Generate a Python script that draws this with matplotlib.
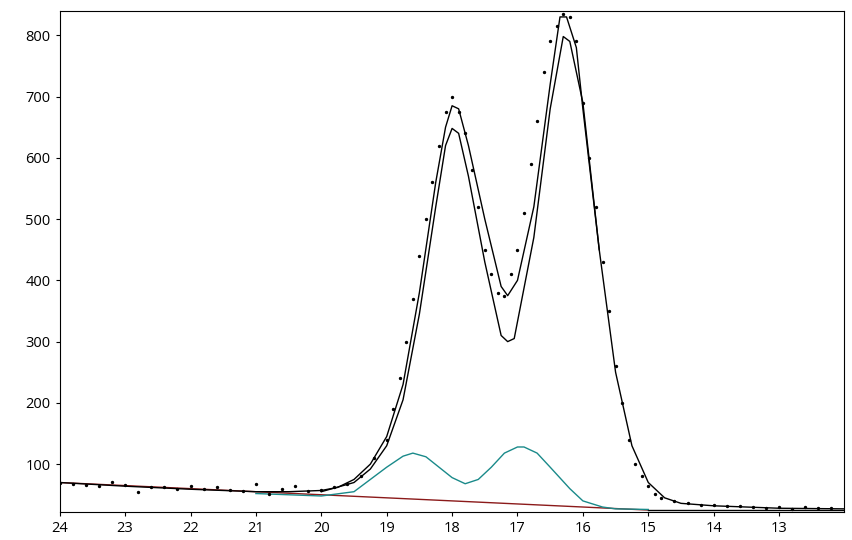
import matplotlib
matplotlib.use("Agg")
import matplotlib.pyplot as plt

plt.rcParams['font.family'] = ['Open Sans', 'DejaVu Sans']

fit_x = [24, 23, 22, 21, 20.5, 20, 19.75, 19.5, 19.25, 19, 18.75, 18.5, 18.25, 18.1, 18, 17.9, 17.75, 17.5, 17.25, 17.15,
         17, 16.75, 16.5, 16.35, 16.25, 16.1, 16, 15.75, 15.5, 15.25, 15, 14.75, 14.5, 14, 13, 12]
fit_y = [70, 64, 59, 55, 55, 57, 62, 75, 100, 145, 230, 380, 560, 650, 685, 680, 620, 500, 390, 375,
         400, 520, 720, 830, 830, 780, 680, 450, 250, 130, 70, 45, 36, 32, 28, 27]

sum_x = [20, 19.5, 19.25, 19, 18.75, 18.5, 18.25, 18.1, 18, 17.9, 17.75, 17.5, 17.25, 17.15, 17.05, 16.75, 16.5, 16.3, 16.2, 16, 15.75]
sum_y = [55, 70, 92, 130, 205, 345, 520, 620, 648, 640, 570, 430, 310, 300, 305, 470, 680, 798, 790, 690, 450]

peak_x = [21, 20, 19.5, 19, 18.75, 18.6, 18.4, 18.2, 18, 17.8, 17.6, 17.4, 17.2, 17, 16.9, 16.7, 16.5, 16.2, 16, 15.7, 15.5, 15]
peak_y = [52, 48, 55, 95, 113, 118, 112, 95, 78, 68, 75, 95, 118, 128, 128, 118, 95, 60, 40, 30, 27, 26]

base_x = [24, 15]
base_y = [70, 25]
flat_x = [15, 12]
flat_y = [25, 25]

pts_x = [24, 23.8, 23.6, 23.4, 23.2, 23.0, 22.8, 22.6, 22.4, 22.2, 22.0, 21.8, 21.6, 21.4, 21.2, 21.0, 20.8, 20.6, 20.4,
         20.2, 20.0, 19.8, 19.6, 19.4, 19.2, 19.0, 18.9, 18.8, 18.7, 18.6, 18.5, 18.4, 18.3, 18.2, 18.1, 18.0, 17.9, 17.8,
         17.7, 17.6, 17.5, 17.4, 17.3, 17.2, 17.1, 17.0, 16.9, 16.8, 16.7, 16.6, 16.5, 16.4, 16.3, 16.2, 16.1, 16.0, 15.9,
         15.8, 15.7, 15.6, 15.5, 15.4, 15.3, 15.2, 15.1, 15.0, 14.9, 14.8, 14.6, 14.4, 14.2, 14.0, 13.8, 13.6, 13.4, 13.2,
         13.0, 12.8, 12.6, 12.4, 12.2]
pts_y = [70, 68, 66, 64, 71, 66, 55, 62, 63, 60, 64, 60, 62, 58, 56, 68, 52, 60, 64,
         56, 57, 62, 68, 80, 110, 140, 190, 240, 300, 370, 440, 500, 560, 620, 675, 700, 675, 640,
         580, 520, 450, 410, 380, 375, 410, 450, 510, 590, 660, 740, 790, 815, 835, 830, 790, 690, 600,
         520, 430, 350, 260, 200, 140, 100, 80, 65, 52, 45, 40, 36, 34, 33, 31, 32, 30, 28,
         30, 27, 30, 28, 29]

fig, ax = plt.subplots(figsize=(8.53, 5.4), dpi=100)
fig.subplots_adjust(left=0.07, right=0.99, top=0.98, bottom=0.052)

ax.plot(base_x, base_y, color='#8b1a1a', lw=1)
ax.plot(flat_x, flat_y, color='black', lw=1)
ax.plot(peak_x, peak_y, color='#1a8a8a', lw=1)
ax.plot(sum_x, sum_y, color='black', lw=1)
ax.plot(fit_x, fit_y, color='black', lw=1)
ax.scatter(pts_x, pts_y, s=2, color='black', zorder=3)

ax.set_xlim(24, 12)
ax.set_ylim(22, 840)
ax.set_xticks(range(24, 12, -1))
ax.set_yticks(range(100, 900, 100))
ax.tick_params(labelsize=10.5, length=3)
for s in ax.spines.values():
    s.set_linewidth(0.8)
fig.savefig('out.png')
